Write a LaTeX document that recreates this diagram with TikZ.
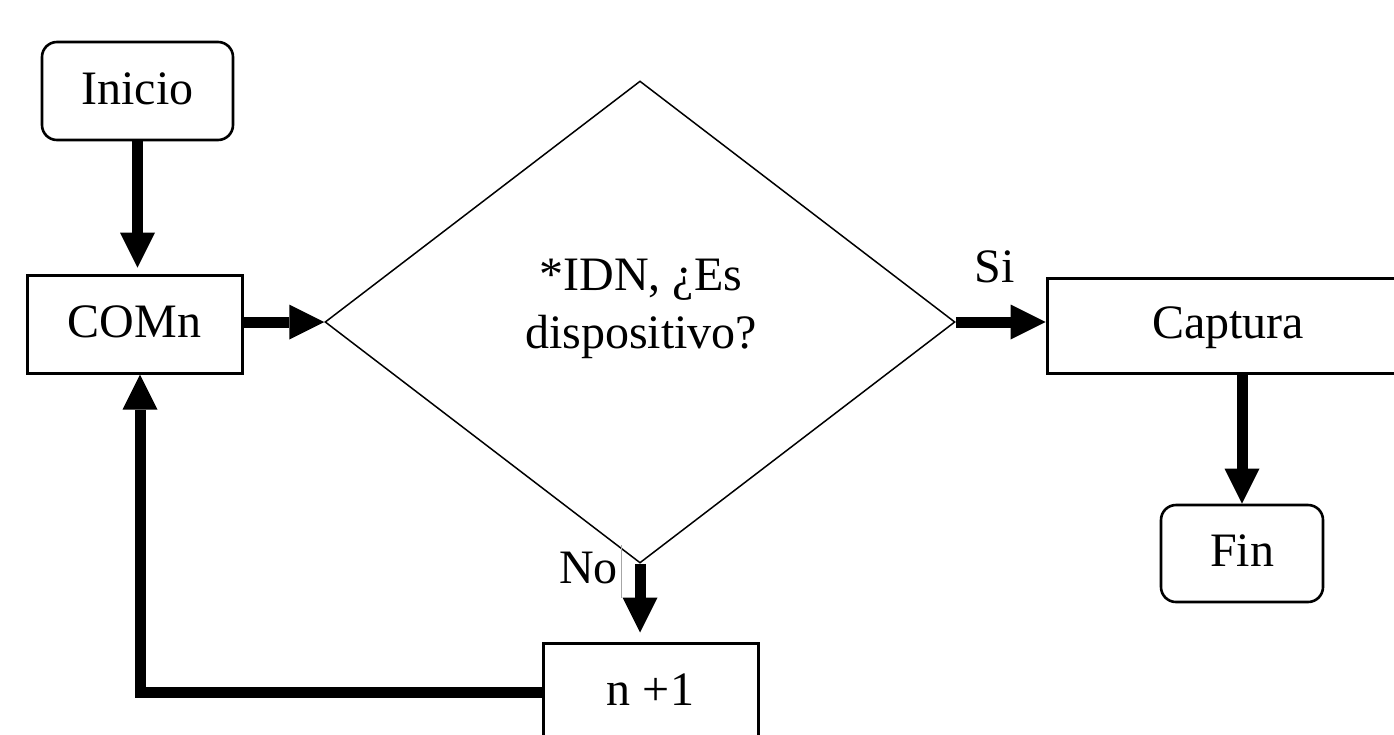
\documentclass[tikz,border=0pt]{standalone}
\usepackage{fontspec}
\setmainfont{Liberation Serif}
\usetikzlibrary{arrows.meta,shapes.geometric}

\tikzset{
  every node/.style={font=\fontsize{48}{58}\selectfont},
  box/.style={draw, line width=3pt, inner sep=0pt,
              text height=34pt, text depth=8pt},
  term/.style={box, line width=2.6pt, rounded corners=15pt},
  decision/.style={draw, shape=diamond, line width=1.5pt, inner sep=0pt,
                   minimum width=630pt, minimum height=482pt},
  flow/.style={line width=11pt,
               -{Triangle[length=35pt,width=35pt,line width=0pt]}},
  tag/.style={anchor=base, inner sep=0pt}
}

\begin{document}
\begin{tikzpicture}[x=1pt, y=-1pt]
  \useasboundingbox (0,0) rectangle (1394,734);
  \clip (0,0) rectangle (1394,734);

  % boxes
  \node[term, minimum width=191pt, minimum height=98pt] (ini) at (137.5,91) {Inicio};
  \node[box,  minimum width=215pt, minimum height=98pt] (com) at (134.5,324) {COMn};
  \node[decision] (dec) at (640,322) {};
  \node[align=center, inner sep=0pt] (q) at (641,309) {*IDN, ¿Es\\dispositivo?};
  \node[box,  minimum width=362pt, minimum height=95pt] (cap) at (1228,325.5) {Captura};
  \node[term, minimum width=162pt, minimum height=97pt] (fin) at (1242,553.5) {Fin};
  \node[box,  minimum width=215pt, minimum height=98pt] (inc) at (650.5,692) {n +1};

  % branch labels
  \node[tag] (si) at (995,282) {Si};
  \node[tag] (no) at (588.5,583) {No};
  \coordinate (cur1) at (621,545);
  \coordinate (cur2) at (621,598);
  \draw[gray!70, line width=1pt] (cur1) -- (cur2);

  % connectors
  \draw[flow, shorten >=6pt] (ini.south) -- (ini.south |- com.north);
  \draw[flow] (com.east |- dec.west) -- (dec.west);
  \draw[flow] (dec.east) -- (cap.west |- dec.east);
  \draw[flow] (fin.north |- cap.south) -- (fin.north);
  \draw[flow, shorten >=9pt] (dec.south) -- (dec.south |- inc.north);
  \draw[flow] (inc.west) -| ([xshift=5.5pt]com.south);
\end{tikzpicture}
\end{document}
